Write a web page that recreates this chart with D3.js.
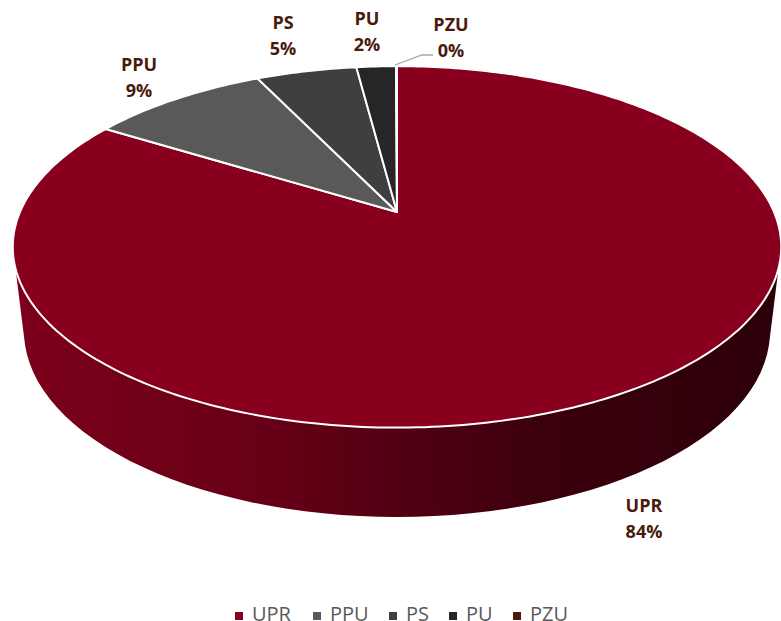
<!DOCTYPE html>
<html>
<head>
<meta charset="utf-8">
<style>
  html, body { margin: 0; padding: 0; background: #fff; overflow: hidden; }
  svg { display: block; }
</style>
</head>
<body>
<div id="container"></div>
<script src="https://cdn.jsdelivr.net/npm/d3@7"></script>
<script>
// Data
let categories = ["UPR", "PPU", "PS", "PU", "PZU"];
let shares = [83.8, 9.05, 5.1, 2.0, 0.05];
let colors = ["#88001e", "#595959", "#3f3f3f", "#262626", "#4a1a0c"];

// Layout
let width = 781;
let height = 621;
let labelColor = "#4a1a0c";
let legendColor = "#595959";
let labelPos = [[644, 512], [139, 71], [283, 29], [367, 25], [451, 31]];
let legendX = [235, 313, 389, 449, 513];

let svg = d3.select("#container")
  .append("svg")
  .attr("width", width)
  .attr("height", height);

// Tilted disc: a circle seen in perspective, so the apex sits above the ellipse centre
let apex = { x: 397, y: 212 };
let persp = { k: 0.193, a: 174, b: 377 };

function project(t) {
  let u = Math.sin(t);
  let v = Math.cos(t);
  let d = 1 + persp.k * v;
  return [apex.x + (persp.b * u) / d, apex.y - (persp.a * v) / d];
}

// Lower rim of the wall
let base = { x: 397, y: 331, rx: 373, ry: 186 };
function baseRim(t) {
  return [base.x + base.rx * Math.sin(t), base.y - base.ry * Math.cos(t)];
}

let line = d3.line();
let arcs = d3.pie().sort(null).value((d) => d)(shares);

// Side wall
let defs = svg.append("defs");
let grad = defs.append("linearGradient")
  .attr("id", "wall")
  .attr("x1", 0).attr("x2", 1).attr("y1", 0).attr("y2", 0);
grad.append("stop").attr("offset", "0%").attr("stop-color", "#7c001b");
grad.append("stop").attr("offset", "35%").attr("stop-color", "#650016");
grad.append("stop").attr("offset", "70%").attr("stop-color", "#3a000c");
grad.append("stop").attr("offset", "100%").attr("stop-color", "#2e0009");

// the wall starts a little below the widest point of the top face, runs straight, then follows the base
let topFrom = 1.88;
let lowFrom = 1.646;
let topFront = d3.range(0, 61).map((i) => project(topFrom + (i / 60) * (2 * Math.PI - 2 * topFrom)));
let lowFront = d3.range(0, 61).map((i) => baseRim(2 * Math.PI - lowFrom - (i / 60) * (2 * Math.PI - 2 * lowFrom)));

svg.append("path")
  .attr("d", line(topFront.concat(lowFront)) + "Z")
  .attr("fill", "url(#wall)");

// Top face slices
let slices = svg.append("g");
arcs.forEach((d, i) => {
  let n = Math.max(2, Math.ceil((d.endAngle - d.startAngle) * 60));
  let pts = d3.range(0, n + 1).map((j) => project(d.startAngle + (j / n) * (d.endAngle - d.startAngle)));
  slices.append("path")
    .attr("d", line([[apex.x, apex.y]].concat(pts)) + "Z")
    .attr("fill", colors[i])
    .attr("stroke", "#fff")
    .attr("stroke-width", 2)
    .attr("stroke-linejoin", "round");
});

// Leader line to the PZU label
svg.append("polyline")
  .attr("points", "395,65 422,55 433,55")
  .attr("fill", "none")
  .attr("stroke", "#a6a6a6")
  .attr("stroke-width", 1.3);

// Labels
categories.forEach((c, i) => {
  let t = svg.append("text")
    .attr("text-anchor", "middle")
    .attr("font-family", "'Open Sans', sans-serif")
    .attr("font-weight", 700)
    .attr("font-size", 18)
    .attr("fill", labelColor);
  t.append("tspan").attr("x", labelPos[i][0]).attr("y", labelPos[i][1]).text(c);
  t.append("tspan").attr("x", labelPos[i][0]).attr("y", labelPos[i][1] + 26).text(Math.round(shares[i]) + "%");
});

// Legend
categories.forEach((c, i) => {
  svg.append("rect")
    .attr("x", legendX[i])
    .attr("y", 612)
    .attr("width", 8)
    .attr("height", 8)
    .attr("fill", colors[i]);
  svg.append("text")
    .attr("x", legendX[i] + 17)
    .attr("y", 621)
    .attr("font-family", "'Open Sans', sans-serif")
    .attr("font-size", 20)
    .attr("fill", legendColor)
    .text(c);
});
</script>
</body>
</html>
